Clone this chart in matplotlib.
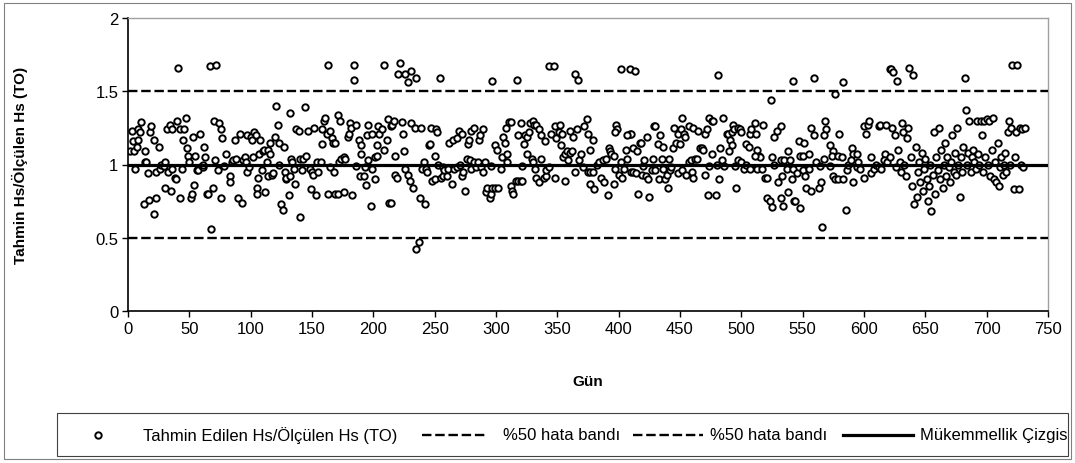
import matplotlib.pyplot as plt
from matplotlib.lines import Line2D
from matplotlib.patches import Rectangle

plt.rcParams['font.family'] = ['Liberation Sans', 'DejaVu Sans']

# Gün / Tahmin Hs / Ölçülen Hs oranı (bölüm bölüm)
gun_a = [2, 5, 4, 3, 8, 11, 10, 8, 7, 14, 14, 15, 6, 16, 13, 17, 21, 23, 18, 19,
         21, 25, 23, 26, 27, 29, 30, 32, 33, 34, 36, 36, 38, 39, 30, 35, 40, 41, 42, 44,
         45, 46, 47, 48, 49, 50, 42, 51, 52, 54, 53, 55, 56, 57, 59, 60, 61, 62, 63, 61,
         64, 65, 67, 69, 68, 70, 71, 72, 73, 74, 76, 77, 76, 78]
oran_a = [1.09, 1.09, 1.16, 1.23, 1.24, 1.29, 1.22, 1.17, 1.12, 1.09, 1.02, 1.02, 0.97, 0.94, 0.73, 0.76, 0.66, 0.77, 1.22, 1.26,
          1.17, 1.12, 0.95, 0.97, 1.00, 0.99, 1.02, 1.24, 0.95, 1.27, 1.24, 0.97, 0.91, 0.90, 0.84, 0.82, 1.30, 1.66, 1.24, 0.97,
          1.17, 1.24, 1.32, 1.11, 1.06, 1.02, 0.77, 0.77, 0.80, 0.86, 1.19, 1.06, 0.96, 0.96, 1.21, 0.99, 0.98, 1.12, 1.05, 1.00,
          0.80, 0.80, 1.67, 0.84, 0.56, 1.30, 1.03, 1.68, 0.96, 1.28, 1.24, 1.18, 0.77, 0.99]

gun_b = [80, 83, 83, 85, 86, 87, 88, 90, 93, 91, 94, 95, 96, 97, 97, 99, 100, 101, 102, 103,
         104, 105, 105, 106, 107, 108, 109, 110, 111, 112, 113, 114, 114, 116, 116, 117, 118, 120, 121, 122,
         123, 123, 125, 126, 127, 128, 129, 129, 131, 132, 132, 133, 134, 135, 136, 137, 139, 140, 140, 142,
         143, 144, 145, 147, 148, 149, 150, 151, 152, 153, 154, 155]
oran_b = [1.07, 0.92, 0.88, 1.02, 1.03, 1.17, 1.04, 0.77, 0.74, 1.21, 1.03, 1.05, 1.02, 0.95, 1.20, 0.98, 1.19, 1.17, 1.05, 1.22,
          1.20, 0.84, 0.80, 0.91, 1.07, 1.17, 0.96, 1.09, 1.10, 0.81, 1.02, 1.10, 0.92, 1.15, 1.07, 0.93, 0.94, 1.19, 1.40, 1.27,
          1.00, 1.15, 0.73, 0.69, 1.12, 0.95, 0.90, 0.91, 0.79, 0.92, 1.35, 1.04, 1.02, 0.97, 0.87, 1.24, 1.23, 1.04, 0.64, 0.96,
          1.04, 1.39, 1.06, 1.23, 0.97, 0.83, 0.95, 0.93, 1.25, 0.79, 1.02, 0.95]

gun_c = [163, 184, 184, 209, 222, 220, 226, 228, 231, 158, 160, 161, 162, 165, 158, 166, 167, 169, 171, 173,
         179, 180, 181, 182, 186, 188, 190, 195, 196, 199, 203, 204, 205, 207, 209, 211, 212, 214, 215, 217,
         218, 223, 224, 225, 157, 231, 163, 169, 171, 176, 183, 165, 168, 172, 174, 176, 177, 186, 189, 190,
         192, 193, 194, 196, 198, 199, 201, 201, 203, 213, 214, 218, 219, 226, 228, 230, 232]
oran_c = [1.68, 1.68, 1.58, 1.68, 1.69, 1.62, 1.62, 1.56, 1.64, 1.24, 1.30, 1.32, 1.21, 1.23, 1.14, 1.18, 1.15, 1.15, 1.34, 1.30,
          1.19, 1.21, 1.28, 1.25, 1.27, 1.17, 1.13, 1.20, 1.27, 1.21, 1.13, 1.26, 1.21, 1.24, 1.10, 1.17, 1.31, 1.26, 1.27, 1.30,
          1.06, 1.29, 1.21, 1.09, 1.02, 1.28, 0.80, 0.80, 0.80, 0.81, 0.79, 0.98, 0.95, 1.02, 1.04, 1.05, 1.04, 0.99, 0.92, 1.07,
          0.92, 0.98, 0.86, 1.03, 0.72, 0.97, 0.90, 1.05, 1.06, 0.74, 0.74, 0.93, 0.91, 0.97, 0.93, 0.89, 0.84]

gun_d = [235, 254, 297, 234, 239, 247, 251, 252, 245, 246, 250, 262, 265, 268, 270, 272, 277, 278, 280, 282,
         286, 287, 289, 299, 301, 305, 306, 307, 308, 309, 311, 241, 240, 243, 244, 248, 250, 253, 255, 257,
         257, 258, 260, 261, 264, 266, 268, 271, 272, 273, 275, 276, 279, 280, 282, 284, 285, 288, 289, 291,
         292, 293, 295, 296, 297, 299, 302, 296, 304, 309, 238, 242, 237, 235]
oran_d = [1.59, 1.59, 1.57, 1.25, 1.25, 1.25, 1.24, 1.22, 1.13, 1.14, 1.06, 1.15, 1.17, 1.18, 1.23, 1.21, 1.14, 1.17, 1.23, 1.25,
          1.17, 1.20, 1.24, 1.13, 1.10, 1.05, 1.19, 1.15, 1.25, 1.07, 1.29, 1.02, 0.97, 0.97, 0.95, 0.89, 0.90, 1.00, 0.91, 0.92,
          0.98, 0.96, 0.92, 0.97, 0.87, 0.97, 0.98, 1.00, 0.92, 0.95, 0.82, 1.04, 1.03, 0.97, 1.02, 0.98, 1.02, 0.98, 0.95, 1.02,
          0.81, 0.84, 0.77, 0.80, 0.84, 0.84, 0.84, 0.99, 0.97, 1.02, 0.77, 0.73, 0.47, 0.42]

gun_e = [317, 343, 347, 364, 367, 312, 320, 318, 323, 324, 325, 327, 328, 330, 331, 333, 335, 337, 340, 345,
         348, 349, 351, 352, 354, 353, 360, 363, 366, 372, 374, 375, 379, 377, 321, 325, 329, 330, 332, 333,
         335, 337, 339, 341, 341, 343, 348, 355, 356, 358, 359, 360, 362, 356, 364, 368, 369, 371, 375, 377,
         379, 377, 380, 382, 384, 386, 387, 388, 312, 313, 314, 316, 318, 320, 321]
oran_e = [1.58, 1.67, 1.67, 1.62, 1.58, 1.29, 1.28, 1.20, 1.14, 1.20, 1.19, 1.22, 1.28, 1.30, 1.27, 1.27, 1.24, 1.20, 1.16, 1.21,
          1.26, 1.18, 1.22, 1.27, 1.21, 1.13, 1.23, 1.19, 1.24, 1.26, 1.31, 1.21, 1.17, 1.10, 0.99, 1.07, 1.04, 1.02, 0.97, 0.91,
          0.88, 1.04, 0.91, 0.92, 0.96, 0.98, 0.91, 1.05, 1.07, 1.09, 1.03, 1.08, 1.09, 0.89, 0.95, 1.03, 1.07, 0.98, 0.95, 0.95,
          0.95, 0.87, 0.83, 1.00, 1.02, 0.91, 1.03, 0.88, 0.85, 0.82, 0.80, 0.89, 0.89, 0.89, 0.89]

gun_f = [402, 409, 413, 398, 399, 397, 409, 410, 407, 406, 412, 415, 417, 418, 423, 429, 430, 432, 434, 436,
         445, 444, 447, 448, 450, 451, 452, 453, 454, 457, 461, 465, 466, 390, 396, 391, 397, 400, 402, 403,
         404, 407, 410, 412, 414, 416, 419, 420, 421, 422, 424, 425, 427, 428, 430, 433, 435, 436, 438, 439,
         441, 440, 442, 443, 448, 452, 455, 457, 459, 460, 461, 462, 464, 392, 393, 394, 396]
oran_f = [1.65, 1.65, 1.64, 1.27, 1.24, 1.22, 1.21, 1.21, 1.20, 1.10, 1.11, 1.09, 1.15, 1.15, 1.19, 1.26, 1.26, 1.14, 1.20, 1.12,
          1.25, 1.11, 1.15, 1.21, 1.14, 1.24, 1.32, 1.21, 1.19, 1.26, 1.25, 1.23, 1.11, 1.04, 0.87, 0.79, 0.97, 0.93, 1.02, 0.91,
          0.97, 1.04, 0.95, 0.95, 0.94, 0.80, 0.93, 0.99, 1.03, 0.92, 0.90, 0.78, 0.96, 1.04, 0.96, 0.90, 1.04, 0.97, 0.90, 0.93,
          1.04, 0.84, 0.96, 0.98, 0.94, 0.96, 0.93, 1.02, 1.03, 0.95, 0.91, 1.04, 1.04, 1.11, 1.09, 1.07, 1.06]

gun_g = [481, 542, 524, 470, 472, 474, 476, 477, 485, 488, 489, 492, 493, 494, 497, 499, 500, 491, 492, 490,
         468, 469, 483, 476, 504, 506, 507, 508, 511, 512, 518, 513, 514, 515, 527, 529, 532, 538, 470, 474,
         480, 482, 484, 486, 495, 497, 500, 502, 504, 507, 511, 513, 517, 519, 521, 525, 527, 530, 532, 533,
         535, 537, 540, 541, 542, 473, 479, 496, 521, 523, 525, 532, 534, 538, 543]
oran_g = [1.61, 1.57, 1.44, 1.21, 1.24, 1.32, 1.30, 1.30, 1.32, 1.21, 1.21, 1.22, 1.27, 1.24, 1.25, 1.24, 1.22, 1.17, 1.13, 1.09,
          1.11, 1.10, 1.11, 1.07, 1.14, 1.12, 1.21, 1.24, 1.28, 1.21, 1.27, 1.10, 1.06, 1.05, 1.19, 1.23, 1.26, 1.09, 0.93, 0.99,
          1.00, 0.90, 1.03, 0.99, 0.99, 1.03, 1.02, 0.97, 1.00, 0.97, 1.06, 0.97, 0.97, 0.91, 0.91, 1.05, 1.00, 0.88, 1.03, 0.92,
          1.03, 0.97, 1.03, 0.90, 0.97, 0.79, 0.79, 0.84, 0.77, 0.75, 0.71, 0.77, 0.72, 0.81, 0.75]

gun_h = [559, 583, 576, 621, 547, 551, 548, 550, 555, 557, 559, 568, 569, 567, 572, 575, 574, 580, 579, 582,
         590, 591, 594, 600, 603, 604, 602, 606, 612, 613, 618, 617, 545, 550, 552, 555, 561, 564, 567, 572,
         575, 576, 579, 583, 586, 587, 589, 591, 594, 595, 597, 600, 606, 608, 610, 612, 614, 616, 619, 544,
         548, 553, 557, 563, 565, 566, 585]
oran_h = [1.59, 1.56, 1.48, 1.65, 1.16, 1.15, 1.06, 1.06, 1.07, 1.25, 1.20, 1.30, 1.24, 1.20, 1.13, 1.09, 1.06, 1.21, 1.06, 1.05,
          1.11, 1.07, 1.07, 1.26, 1.27, 1.30, 1.21, 1.05, 1.26, 1.27, 1.27, 1.07, 0.94, 0.96, 0.92, 0.97, 1.02, 0.99, 1.04, 0.99,
          0.92, 0.90, 0.90, 0.90, 0.96, 1.00, 1.03, 0.88, 0.98, 1.02, 0.97, 0.91, 0.94, 0.97, 1.00, 0.98, 0.97, 1.03, 1.02, 0.75,
          0.70, 0.84, 0.82, 0.84, 0.88, 0.57, 0.69]

gun_i = [621, 622, 623, 624, 625, 626, 627, 628, 629, 630, 631, 632, 633, 634, 635, 636, 637, 638, 639, 640,
         641, 642, 643, 644, 645, 646, 647, 648, 649, 650, 651, 652, 653, 654, 655, 656, 657, 658, 659, 660,
         661, 662, 663, 664, 665, 666, 667, 668, 669, 670, 671, 672, 673, 674, 675, 676, 677, 678, 679, 680,
         681, 682, 683, 684, 685, 686, 687, 688, 689, 690, 691, 692, 693, 694, 695, 696, 697, 698, 699, 700,
         701, 702, 703, 704, 705, 706, 707, 708, 709, 710, 711, 712, 713, 714, 715, 716, 717, 718, 719, 720,
         721, 722, 723, 724, 725, 726, 727, 728, 729, 730, 731]
oran_i = [1.05, 1.65, 1.25, 1.63, 1.20, 0.98, 1.57, 1.10, 1.02, 0.95, 1.28, 1.22, 1.00, 0.92, 1.18, 1.25, 1.66, 1.05, 0.85, 1.61,
          0.73, 1.12, 0.78, 0.95, 1.02, 0.88, 1.08, 0.82, 0.97, 1.04, 0.90, 0.75, 0.85, 1.00, 0.68, 0.93, 1.22, 0.80, 1.05, 0.96,
          1.25, 0.90, 1.10, 0.84, 1.00, 1.15, 0.92, 1.05, 0.98, 0.88, 1.02, 1.20, 0.95, 1.08, 0.93, 1.25, 1.00, 0.78, 1.05, 0.95,
          1.12, 1.59, 1.37, 1.00, 1.08, 1.30, 0.95, 1.05, 1.10, 1.02, 0.97, 1.30, 1.07, 1.00, 1.30, 1.20, 0.95, 1.30, 1.05, 1.31,
          1.00, 1.30, 0.92, 1.10, 1.32, 0.90, 1.02, 0.88, 1.15, 0.85, 0.98, 1.05, 0.93, 1.00, 1.08, 0.95, 1.22, 1.30, 1.00, 1.25,
          1.68, 0.83, 1.05, 1.22, 1.68, 0.83, 1.25, 1.00, 1.24, 0.98, 1.25]

gun = gun_a + gun_b + gun_c + gun_d + gun_e + gun_f + gun_g + gun_h + gun_i
oran = oran_a + oran_b + oran_c + oran_d + oran_e + oran_f + oran_g + oran_h + oran_i

hata_bandi = [0.5, 1.5]
mukemmel = 1.0

W, H = 1075, 464
fig = plt.figure(figsize=(W / 100, H / 100), dpi=100)
ax = fig.add_axes([128 / W, 1 - 312 / H, 920 / W, 293 / H])

ax.plot(gun, oran, 'o', ms=4.6, mfc='white', mec='black', mew=1.4, zorder=2)
for y in hata_bandi:
    ax.axhline(y, color='black', lw=1.7, dashes=(4, 1.6), zorder=3)
ax.axhline(mukemmel, color='black', lw=2.3, zorder=3)

ax.set_xlim(0, 750)
ax.set_ylim(0, 2)
ax.set_xticks(range(0, 751, 50))
ax.set_yticks([0, 0.5, 1, 1.5, 2])
ax.set_yticklabels(['0', '0.5', '1', '1.5', '2'])
ax.tick_params(direction='out', length=4, width=1, labelsize=12, pad=3)
for s in ['left', 'bottom']:
    ax.spines[s].set_linewidth(1.2)
for s in ['top', 'right']:
    ax.spines[s].set_color('#a0a0a0')
    ax.spines[s].set_linewidth(1)

fig.text(588 / W, 1 - 382 / H, 'Gün', ha='center', va='center', fontsize=11, fontweight='bold')
fig.text(20 / W, 1 - 165 / H, 'Tahmin Hs/Ölçülen Hs (TO)', ha='center', va='center',
         rotation=90, fontsize=11, fontweight='bold')

# dış çerçeve
fig.add_artist(Rectangle((4 / W, 4 / H), 1067 / W, 456 / H, transform=fig.transFigure,
                         fill=False, edgecolor='#808080', lw=0.8))

# lejant
kutu = Rectangle((57 / W, 1 - 457 / H), 1011 / W, 43 / H, transform=fig.transFigure,
                 fill=False, edgecolor='#404040', lw=0.8)
fig.add_artist(kutu)
yl = 1 - 436 / H
fig.add_artist(Line2D([98 / W], [yl], marker='o', ms=4.6, mfc='white', mec='black', mew=1.4,
                      transform=fig.transFigure))
fig.text(143 / W, yl, 'Tahmin Edilen Hs/Ölçülen Hs (TO)', va='center', fontsize=12)
fig.add_artist(Line2D([422 / W, 488 / W], [yl, yl], color='black', lw=1.7, dashes=(4, 1.6),
                      transform=fig.transFigure))
fig.text(503 / W, yl, '%50 hata bandı', va='center', fontsize=12)
fig.add_artist(Line2D([633 / W, 703 / W], [yl, yl], color='black', lw=1.7, dashes=(4, 1.6),
                      transform=fig.transFigure))
fig.text(710 / W, yl, '%50 hata bandı', va='center', fontsize=12)
fig.add_artist(Line2D([843 / W, 913 / W], [yl, yl], color='black', lw=2.3,
                      transform=fig.transFigure))
t = fig.text(920 / W, yl, 'Mükemmellik Çizgisi', va='center', fontsize=12)
t.set_clip_path(kutu)

fig.savefig('out.png', dpi=100)
